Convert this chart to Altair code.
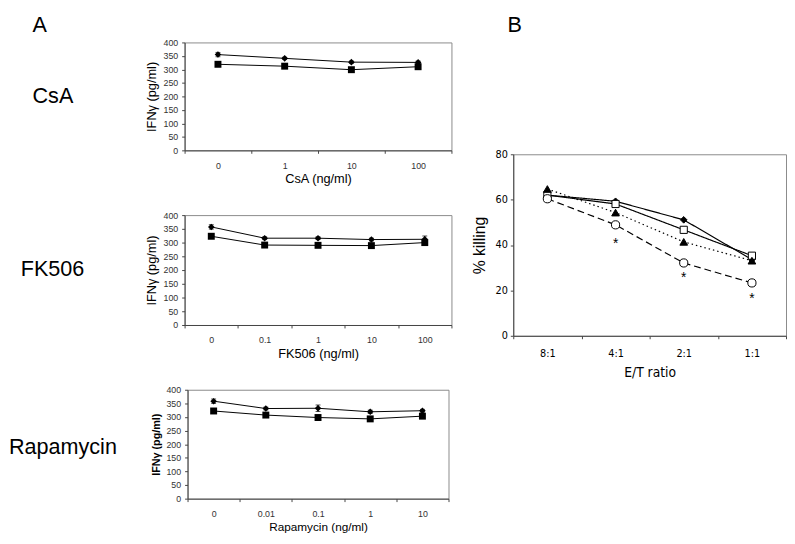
import altair as alt
import pandas as pd

SANS = "Liberation Sans"
NARROW = "DejaVu Sans Condensed, Liberation Sans Narrow, sans-serif"

# ---------------- Panel A data ----------------
csa_doses = ["0", "1", "10", "100"]
csa_diamond = [355, 341, 327, 326]
csa_diamond_err = [8, 4, 4, 5]
csa_square = [319, 312, 299, 310]
csa_square_err = [4, 4, 4, 4]

fk_doses = ["0", "0.1", "1", "10", "100"]
fk_diamond = [357, 316, 316, 311, 312]
fk_diamond_err = [8, 5, 5, 5, 12]
fk_square = [323, 291, 290, 289, 300]
fk_square_err = [4, 4, 4, 6, 6]

rapa_doses = ["0", "0.01", "0.1", "1", "10"]
rapa_diamond = [358, 331, 332, 319, 323]
rapa_diamond_err = [8, 5, 12, 6, 5]
rapa_square = [322, 307, 298, 293, 303]
rapa_square_err = [4, 4, 4, 4, 4]

y_ticks_a = [0, 50, 100, 150, 200, 250, 300, 350, 400]

# ---------------- Panel B data ----------------
ratios = ["8:1", "4:1", "2:1", "1:1"]
series_names = ["series 1", "series 2", "series 3", "series 4"]
series_1 = [62.0, 59.3, 51.1, 33.6]   # filled diamond, solid
series_2 = [62.0, 58.1, 46.7, 35.3]   # open square, solid
series_3 = [64.7, 54.3, 41.4, 33.1]   # filled triangle, dotted
series_4 = [60.4, 48.9, 32.1, 23.3]   # open circle, dashed
star_ratios = ["4:1", "2:1", "1:1"]
star_values = [41.0, 25.7, 16.4]
y_ticks_b = [0, 20, 40, 60, 80]


def text_layer(text, lx, ly, size=22, baseline="alphabetic"):
    return alt.Chart(pd.DataFrame({"label": [text]})).mark_text(
        align="left", baseline=baseline, fontSize=size, font=SANS, color="black"
    ).encode(text="label:N", x=alt.value(lx), y=alt.value(ly))


def ifn_panel(doses, dia, dia_err, sq, sq_err, xtitle, labels, w, h,
              title_bold=False, title_size=13, xtitle_size=13):
    rows = []
    for d, v, e in zip(doses, dia, dia_err):
        rows.append(dict(dose=d, series="diamond", value=v, low=v - e, high=v + e))
    for d, v, e in zip(doses, sq, sq_err):
        rows.append(dict(dose=d, series="square", value=v, low=v - e, high=v + e))
    df = pd.DataFrame(rows)

    x = alt.X("dose:N", sort=doses,
              scale=alt.Scale(type="band", domain=doses, paddingInner=0, paddingOuter=0),
              axis=alt.Axis(title=xtitle, labelAngle=0, tickBand="extent", tickSize=3,
                            labelPadding=8, labelFontSize=9, labelColor="#333",
                            titleFontSize=xtitle_size, titlePadding=3,
                            titleFontWeight="normal", titleColor="black"))

    def yenc(field):
        return alt.Y(field, type="quantitative",
                     scale=alt.Scale(domain=[0, 400], nice=False),
                     axis=alt.Axis(values=y_ticks_a, title="IFNγ (pg/ml)", tickSize=3,
                                   labelPadding=4, labelFontSize=9, labelColor="#333",
                                   titleFontSize=title_size, titlePadding=5,
                                   titleFontWeight="bold" if title_bold else "normal",
                                   titleColor="black"))

    base = alt.Chart(df)
    lines = base.mark_line(color="black", strokeWidth=1).encode(
        x=x, y=yenc("value"), detail="series:N")
    rules = base.mark_rule(color="black", strokeWidth=1).encode(
        x=x, y=yenc("low"), y2="high:Q")
    cap_hi = base.mark_tick(color="black", size=5, thickness=1).encode(x=x, y=yenc("high"))
    cap_lo = base.mark_tick(color="black", size=5, thickness=1).encode(x=x, y=yenc("low"))
    dia_pts = base.transform_filter(alt.datum.series == "diamond").mark_point(
        filled=True, color="black", opacity=1, shape="diamond", size=45).encode(
        x=x, y=yenc("value"))
    sq_pts = base.transform_filter(alt.datum.series == "square").mark_point(
        filled=True, color="black", opacity=1, shape="square", size=50).encode(
        x=x, y=yenc("value"))

    layers = [lines, rules, cap_hi, cap_lo, dia_pts, sq_pts]
    for text, lx, ly, bl in labels:
        layers.append(text_layer(text, lx, ly, baseline=bl))
    return alt.layer(*layers).properties(width=w, height=h)


csa = ifn_panel(csa_doses, csa_diamond, csa_diamond_err, csa_square, csa_square_err,
                "CsA (ng/ml)",
                [("A", -155, -28, "top"), ("CsA", -155, 62, "alphabetic")], 272, 110)
fk = ifn_panel(fk_doses, fk_diamond, fk_diamond_err, fk_square, fk_square_err,
               "FK506 (ng/ml)", [("FK506", -167, 62, "alphabetic")], 272, 112)
rapa = ifn_panel(rapa_doses, rapa_diamond, rapa_diamond_err, rapa_square, rapa_square_err,
                 "Rapamycin (ng/ml)", [("Rapamycin", -182, 65, "alphabetic")], 266, 111,
                 title_bold=True, title_size=11, xtitle_size=12)

left = alt.vconcat(csa, fk, rapa, spacing=66, bounds="flush", center=True)

# ---------------- Panel B ----------------
rows_b = []
for name, vals in zip(series_names, [series_1, series_2, series_3, series_4]):
    for r, v in zip(ratios, vals):
        rows_b.append(dict(ratio=r, series=name, value=v))
df_b = pd.DataFrame(rows_b)
df_star = pd.DataFrame({"ratio": star_ratios, "value": star_values, "star": ["*"] * 3})

xb = alt.X("ratio:N", sort=ratios,
           scale=alt.Scale(type="band", domain=ratios, paddingInner=0, paddingOuter=0),
           axis=alt.Axis(title="E/T ratio", labelAngle=0, tickBand="extent", tickSize=3,
                         labelPadding=9, labelFontSize=11, labelFont=NARROW,
                         labelColor="black", titleFont=NARROW, titleFontSize=14,
                         titlePadding=8, titleFontWeight="normal", titleColor="black"))
yb = alt.Y("value:Q", scale=alt.Scale(domain=[0, 80], nice=False),
           axis=alt.Axis(values=y_ticks_b, title="% killing", tickSize=3, labelPadding=3,
                         labelFontSize=11, labelFont=NARROW, labelColor="black",
                         titleFont=SANS, titleFontSize=16, titlePadding=8,
                         titleFontWeight="normal", titleColor="black"))

base_b = alt.Chart(df_b)
lines_b = base_b.mark_line(color="black", strokeWidth=1.2).encode(
    x=xb, y=yb, detail="series:N",
    strokeDash=alt.StrokeDash("series:N", legend=None,
                              scale=alt.Scale(domain=series_names,
                                              range=[[1, 0], [1, 0], [1.5, 3], [7, 4]])))
pts_b = base_b.mark_point(filled=True, stroke="black", strokeWidth=1, opacity=1).encode(
    x=xb, y=yb,
    shape=alt.Shape("series:N", legend=None,
                    scale=alt.Scale(domain=series_names,
                                    range=["diamond", "square", "triangle-up", "circle"])),
    fill=alt.Fill("series:N", legend=None,
                  scale=alt.Scale(domain=series_names,
                                  range=["black", "white", "black", "white"])),
    size=alt.Size("series:N", legend=None,
                  scale=alt.Scale(domain=series_names, range=[45, 70, 50, 60])))
stars = alt.Chart(df_star).mark_text(fontSize=14, font=SANS, color="black",
                                     baseline="middle", dy=1).encode(
    x=xb, y=yb, text="star:N")

panel_b = alt.layer(lines_b, pts_b, stars).properties(width=278, height=185)

# spacer above panel B carrying the "B" label (aligned with the "A" label)
spacer_b = text_layer("B", -6, -28, baseline="top").properties(
    width=278, height=60, view=alt.ViewBackground(stroke="transparent"))

right = alt.vconcat(spacer_b, panel_b, spacing=54, bounds="flush")

chart = alt.hconcat(left, right, spacing=18).configure_view(
    stroke="#8a8a8a", strokeWidth=1
).configure_axis(
    grid=False, domainColor="#444", tickColor="#444",
    labelFont=SANS, titleFont=SANS
).properties(padding={"left": 0, "top": 0, "right": 0, "bottom": 0})

chart.save("out.html", embed_options={"renderer": "svg", "actions": False})
